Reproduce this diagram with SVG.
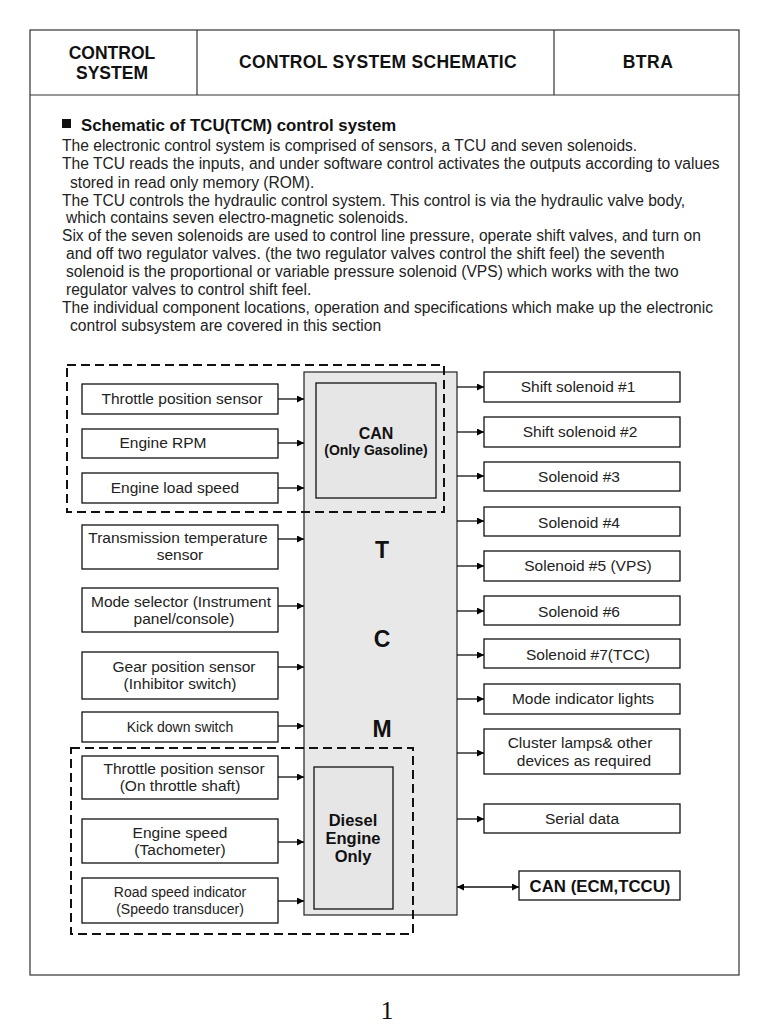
<svg xmlns="http://www.w3.org/2000/svg" width="768" height="1024" viewBox="0 0 768 1024">
<defs>
<marker id="ah" viewBox="0 0 10 10" refX="10" refY="5" markerWidth="9" markerHeight="7" markerUnits="userSpaceOnUse" orient="auto-start-reverse">
<path d="M0,0 L10,5 L0,10 z" fill="#000"/>
</marker>
<style>
.frame{fill:none;stroke:#333;stroke-width:1.2}
.box{fill:#fff;stroke:#111;stroke-width:1.3}
.tcm{fill:#e8e8e8;stroke:#222;stroke-width:1.2}
.inner{fill:#e6e6e6;stroke:#111;stroke-width:1.3}
.dash{fill:none;stroke:#111;stroke-width:2;stroke-dasharray:9 5}
.conn{stroke:#111;stroke-width:1.3;fill:none;marker-end:url(#ah)}
.t{font-family:"Liberation Sans",Arial,sans-serif;font-size:15.5px;fill:#222;text-anchor:middle}
.s{font-size:14px}
.b{font-family:"Liberation Sans",Arial,sans-serif;font-weight:bold;fill:#111;text-anchor:middle}
.p{font-family:"Liberation Sans",Arial,sans-serif;font-size:15.6px;fill:#222}
</style>
</defs>
<rect width="768" height="1024" fill="#fff"/>

<g id="header">
<rect class="frame" x="30" y="30" width="709" height="945"/>
<line class="frame" x1="30" y1="95" x2="739" y2="95"/>
<line class="frame" x1="197" y1="30" x2="197" y2="95"/>
<line class="frame" x1="554" y1="30" x2="554" y2="95"/>
<text class="b" x="112" y="59" font-size="17.5">CONTROL</text>
<text class="b" x="112" y="79" font-size="17.5">SYSTEM</text>
<text class="b" x="378" y="68" font-size="17.5" letter-spacing="0.3">CONTROL SYSTEM SCHEMATIC</text>
<text class="b" x="648" y="68" font-size="17.5" letter-spacing="0.5">BTRA</text>
</g>

<g id="description">
<rect x="62" y="119" width="9" height="9" fill="#111"/>
<text x="81" y="131" font-family="'Liberation Sans',Arial,sans-serif" font-weight="bold" font-size="16.8px" fill="#111">Schematic of TCU(TCM) control system</text>
<text class="p" x="62" y="151">The electronic control system is comprised of sensors, a TCU and seven solenoids.</text>
<text class="p" x="62" y="169">The TCU reads the inputs, and under software control activates the outputs according to values</text>
<text class="p" x="70" y="188">stored in read only memory (ROM).</text>
<text class="p" x="62" y="206">The TCU controls the hydraulic control system. This control is via the hydraulic valve body,</text>
<text class="p" x="66" y="223">which contains seven electro-magnetic solenoids.</text>
<text class="p" x="62" y="241">Six of the seven solenoids are used to control line pressure, operate shift valves, and turn on</text>
<text class="p" x="66" y="259">and off two regulator valves. (the two regulator valves control the shift feel) the seventh</text>
<text class="p" x="66" y="277">solenoid is the proportional or variable pressure solenoid (VPS) which works with the two</text>
<text class="p" x="66" y="295">regulator valves to control shift feel.</text>
<text class="p" x="62" y="313">The individual component locations, operation and specifications which make up the electronic</text>
<text class="p" x="70" y="331">control subsystem are covered in this section</text>
</g>

<g id="tcm">
<rect class="tcm" x="304" y="372" width="153" height="543"/>
<text class="b" x="382" y="558" font-size="23">T</text>
<text class="b" x="382" y="647" font-size="23">C</text>
<text class="b" x="382" y="737" font-size="23">M</text>
</g>
<g id="can-gasoline">
<rect class="inner" x="316" y="383" width="120" height="115"/>
<text class="b" x="376" y="439" font-size="16">CAN</text>
<text class="b" x="376" y="455" font-size="14">(Only Gasoline)</text>
</g>
<g id="diesel-only">
<rect class="inner" x="314" y="767" width="79" height="142"/>
<text class="b" x="353" y="826" font-size="16.5">Diesel</text>
<text class="b" x="353" y="844" font-size="16.5">Engine</text>
<text class="b" x="353" y="862" font-size="16.5">Only</text>
</g>

<g id="in-throttle"><rect class="box" x="82" y="384" width="196" height="30"/><text class="t" x="182" y="404">Throttle position sensor</text></g>
<g id="in-rpm"><rect class="box" x="82" y="429" width="196" height="29"/><text class="t" x="163" y="448">Engine RPM</text></g>
<g id="in-load"><rect class="box" x="82" y="473" width="196" height="30"/><text class="t" x="175" y="493">Engine load speed</text></g>
<g id="in-temp"><rect class="box" x="82" y="525" width="196" height="44"/><text class="t" x="178" y="543">Transmission temperature</text><text class="t" x="180" y="560">sensor</text></g>
<g id="in-mode"><rect class="box" x="82" y="588" width="196" height="44"/><text class="t" x="181" y="607">Mode selector (Instrument</text><text class="t" x="184" y="624">panel/console)</text></g>
<g id="in-gear"><rect class="box" x="82" y="652" width="196" height="47"/><text class="t" x="184" y="672">Gear position sensor</text><text class="t" x="180" y="689">(Inhibitor switch)</text></g>
<g id="in-kick"><rect class="box" x="82" y="712" width="196" height="30"/><text class="t s" x="180" y="732">Kick down switch</text></g>
<g id="in-throttle-shaft"><rect class="box" x="82" y="756" width="196" height="43"/><text class="t" x="184" y="774">Throttle position sensor</text><text class="t" x="180" y="791">(On throttle shaft)</text></g>
<g id="in-engine-speed"><rect class="box" x="82" y="819" width="196" height="44"/><text class="t" x="180" y="838">Engine speed</text><text class="t" x="180" y="855">(Tachometer)</text></g>
<g id="in-road-speed"><rect class="box" x="82" y="878" width="196" height="45"/><text class="t s" x="180" y="897">Road speed indicator</text><text class="t s" x="180" y="914">(Speedo transducer)</text></g>

<g id="out-ss1"><rect class="box" x="484" y="372" width="196" height="30"/><text class="t" x="578" y="392">Shift solenoid #1</text></g>
<g id="out-ss2"><rect class="box" x="484" y="417" width="196" height="30"/><text class="t" x="580" y="437">Shift solenoid #2</text></g>
<g id="out-s3"><rect class="box" x="484" y="462" width="196" height="29"/><text class="t" x="579" y="482">Solenoid #3</text></g>
<g id="out-s4"><rect class="box" x="484" y="507" width="196" height="29"/><text class="t" x="579" y="528">Solenoid #4</text></g>
<g id="out-s5"><rect class="box" x="484" y="551" width="196" height="30"/><text class="t" x="588" y="571">Solenoid #5 (VPS)</text></g>
<g id="out-s6"><rect class="box" x="484" y="596" width="196" height="29"/><text class="t" x="579" y="617">Solenoid #6</text></g>
<g id="out-s7"><rect class="box" x="484" y="639" width="196" height="29"/><text class="t" x="588" y="660">Solenoid #7(TCC)</text></g>
<g id="out-mode"><rect class="box" x="484" y="684" width="196" height="30"/><text class="t" x="583" y="704">Mode indicator lights</text></g>
<g id="out-cluster"><rect class="box" x="484" y="729" width="196" height="45"/><text class="t" x="580" y="748">Cluster lamps&amp; other</text><text class="t" x="584" y="766">devices as required</text></g>
<g id="out-serial"><rect class="box" x="484" y="804" width="196" height="29"/><text class="t" x="582" y="824">Serial data</text></g>
<g id="out-can"><rect class="box" x="519" y="871" width="161" height="29"/><text class="b" x="600" y="892" font-size="16.8">CAN (ECM,TCCU)</text></g>

<g id="groups">
<rect class="dash" x="67" y="365" width="377" height="147"/>
<rect class="dash" x="71" y="748" width="342" height="186"/>
</g>

<g id="connectors">
<line class="conn" x1="278" y1="399" x2="304" y2="399"/>
<line class="conn" x1="278" y1="443" x2="304" y2="443"/>
<line class="conn" x1="278" y1="488" x2="304" y2="488"/>
<line class="conn" x1="278" y1="539" x2="304" y2="539"/>
<line class="conn" x1="278" y1="606" x2="304" y2="606"/>
<line class="conn" x1="278" y1="667" x2="304" y2="667"/>
<line class="conn" x1="278" y1="726" x2="304" y2="726"/>
<line class="conn" x1="278" y1="777" x2="304" y2="777"/>
<line class="conn" x1="278" y1="842" x2="304" y2="842"/>
<line class="conn" x1="278" y1="901" x2="304" y2="901"/>
<line class="conn" x1="457" y1="387" x2="484" y2="387"/>
<line class="conn" x1="457" y1="432" x2="484" y2="432"/>
<line class="conn" x1="457" y1="476" x2="484" y2="476"/>
<line class="conn" x1="457" y1="521" x2="484" y2="521"/>
<line class="conn" x1="457" y1="566" x2="484" y2="566"/>
<line class="conn" x1="457" y1="611" x2="484" y2="611"/>
<line class="conn" x1="457" y1="655" x2="484" y2="655"/>
<line class="conn" x1="457" y1="699" x2="484" y2="699"/>
<line class="conn" x1="457" y1="753" x2="484" y2="753"/>
<line class="conn" x1="457" y1="819" x2="484" y2="819"/>
<line class="conn" x1="457" y1="887" x2="519" y2="887" style="marker-start:url(#ah)"/>
</g>

<text x="387" y="1019" font-family="'Liberation Serif','Times New Roman',serif" font-size="26" fill="#111" text-anchor="middle">1</text>
</svg>
